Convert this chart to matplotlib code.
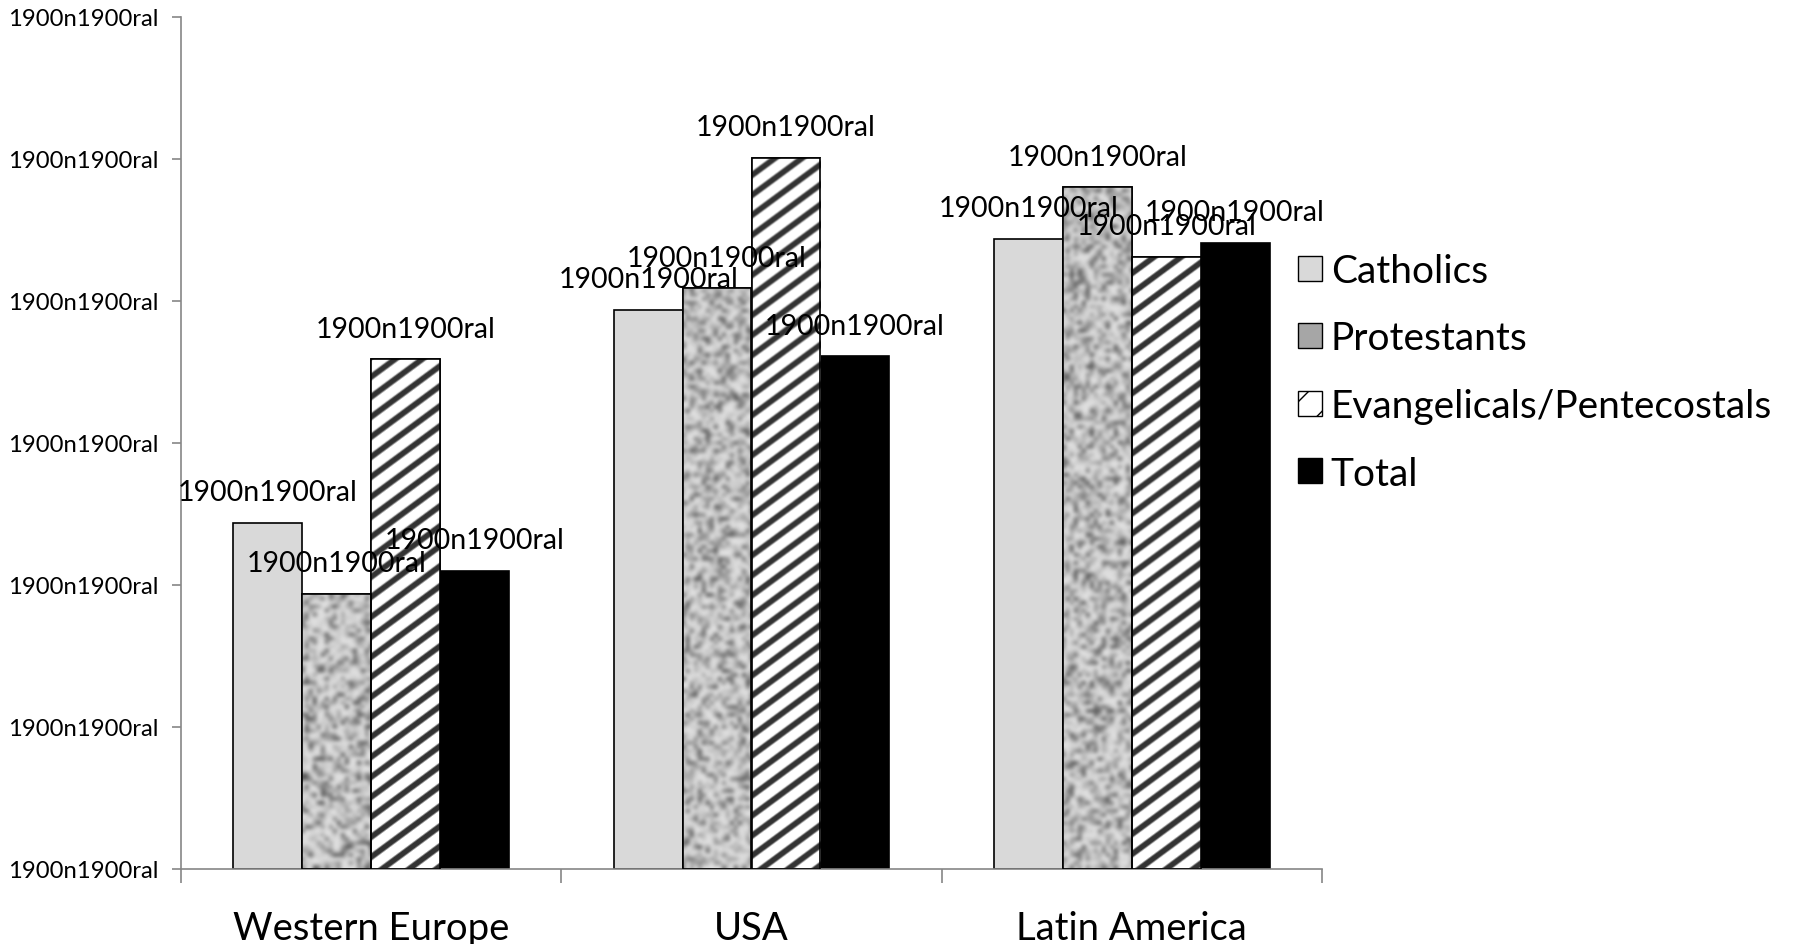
import numpy as np
import matplotlib
matplotlib.use("Agg")
import matplotlib.pyplot as plt
from matplotlib.patches import Patch

plt.rcParams['font.family'] = ['Lato', 'DejaVu Sans']

regions = ["Western Europe", "USA", "Latin America"]
series = ["Catholics", "Protestants", "Evangelicals/Pentecostals", "Total"]
catholics = [2.44, 3.94, 4.44]
protestants = [1.94, 4.09, 4.80]
evangelicals = [3.59, 5.01, 4.31]
total = [2.10, 3.61, 4.41]
y_ticks = [0, 1, 2, 3, 4, 5, 6]
tick_label = "1900n1900ral"
value_label = "1900n1900ral"

W, H, DPI = 1798, 945, 100
ax_left, ax_right, ax_bottom, ax_top = 181, 1322, 75, 927  # pixels
fig = plt.figure(figsize=(W / DPI, H / DPI), dpi=DPI)
ax = fig.add_axes([ax_left / W, ax_bottom / H,
                   (ax_right - ax_left) / W, (ax_top - ax_bottom) / H])

xlim = (-0.5, 2.5)
ylim = (0, 6)
px_w, px_h = ax_right - ax_left, ax_top - ax_bottom

# textures: soft diagonal stripes and mottled grey
yy, xx = np.mgrid[0:px_h, 0:px_w]
wave = 0.5 + 0.5 * np.cos(2 * np.pi * (yy + 0.74 * xx) / 20.0)
stripes = 1.0 - 0.8 * np.clip((wave - 0.55) * 3.2, 0, 1)

rng = np.random.default_rng(7)
grain = rng.random((px_h // 4, px_w // 4))
mottle = 0.88 - 0.55 * grain ** 2.4

x = np.arange(len(regions))
bw = 0.181
offsets = [-1.5 * bw, -0.5 * bw, 0.5 * bw, 1.5 * bw]
values = [catholics, protestants, evangelicals, total]
faces = ['#d9d9d9', '#b0b0b0', 'white', 'black']
textures = [None, (mottle, 'bicubic'), (stripes, 'bilinear'), None]

for vals, off, fc, tex in zip(values, offsets, faces, textures):
    bars = ax.bar(x + off, vals, bw, color=fc, edgecolor='black',
                  linewidth=1.2, zorder=2)
    if tex is not None:
        img, interp = tex
        for b in bars:
            im = ax.imshow(img, extent=(xlim[0], xlim[1], ylim[0], ylim[1]),
                           cmap='gray', vmin=0, vmax=1, aspect='auto',
                           interpolation=interp, origin='upper', zorder=2.5)
            im.set_clip_path(b)
        ax.bar(x + off, vals, bw, fill=False, edgecolor='black',
               linewidth=1.2, zorder=3)
    for xi, v in zip(x + off, vals):
        ax.annotate(value_label, (xi, v), xytext=(0, 22),
                    textcoords='offset points', ha='center', va='center',
                    fontsize=20.5, zorder=4)

ax.set_xlim(*xlim)
ax.set_ylim(*ylim)

ax.set_yticks(y_ticks)
ax.set_yticklabels([tick_label] * len(y_ticks))
ax.tick_params(axis='y', direction='out', length=6.5, width=1.2,
               color='#868686', labelsize=17.2, pad=10)

ax.set_xticks(x)
ax.set_xticklabels(regions)
ax.tick_params(axis='x', which='major', length=0, labelsize=27.5, pad=29.5)
ax.set_xticks([-0.5, 0.5, 1.5, 2.5], minor=True)
ax.tick_params(axis='x', which='minor', direction='out', length=10,
               width=1.2, color='#868686')

for side in ['top', 'right']:
    ax.spines[side].set_visible(False)
for side in ['left', 'bottom']:
    ax.spines[side].set_color('#868686')
    ax.spines[side].set_linewidth(1.2)

handles = [
    Patch(facecolor='#d9d9d9', edgecolor='black', linewidth=1),
    Patch(facecolor='#a6a6a6', edgecolor='black', linewidth=1),
    Patch(facecolor='white', edgecolor='black', linewidth=1, hatch='/'),
    Patch(facecolor='black', edgecolor='black', linewidth=1),
]
fig.legend(handles, series, loc='upper left',
           bbox_to_anchor=(1298 / W, 1 - 254 / H), frameon=False,
           fontsize=28, handlelength=0.62, handleheight=0.62,
           handletextpad=0.22, labelspacing=0.81, borderaxespad=0,
           borderpad=0)

fig.savefig('out.png', dpi=DPI)
